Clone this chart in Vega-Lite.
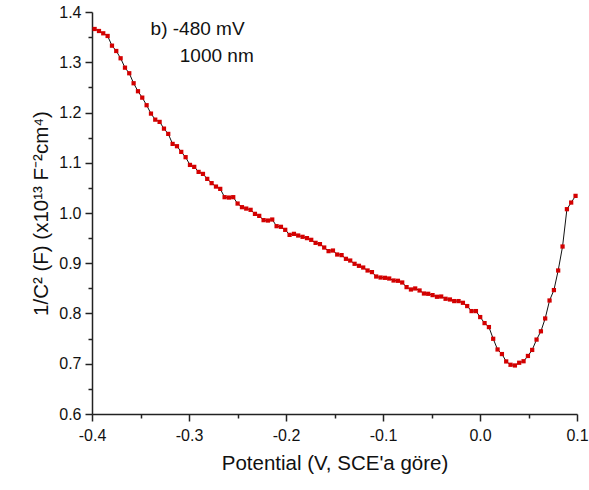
{
  "$schema": "https://vega.github.io/schema/vega-lite/v6.json",
  "width": 485,
  "height": 402,
  "autosize": {"type": "none"},
  "padding": {"left": 92, "top": 12, "right": 12, "bottom": 76},
  "background": "white",
  "config": {
    "view": {"stroke": null},
    "font": "Liberation Sans",
    "axis": {
      "grid": false,
      "domainColor": "#222222",
      "domainWidth": 1.5,
      "tickColor": "#222222",
      "tickWidth": 1.5,
      "labelColor": "#111111",
      "titleColor": "#111111",
      "labelFont": "Liberation Sans",
      "titleFont": "Liberation Sans",
      "labelFontSize": 16,
      "titleFontSize": 20.5,
      "titleFontWeight": "normal",
      "labelOverlap": false,
      "labelFlush": false,
      "labelBound": false
    }
  },
  "data": {
    "values": [
      {"v": -0.3973, "c": 1.3662}, {"v": -0.3928, "c": 1.3622}, {"v": -0.3884, "c": 1.3576}, {"v": -0.3839, "c": 1.3523},
      {"v": -0.3794, "c": 1.3330}, {"v": -0.3750, "c": 1.3224}, {"v": -0.3705, "c": 1.3079}, {"v": -0.3660, "c": 1.2892},
      {"v": -0.3616, "c": 1.2781}, {"v": -0.3571, "c": 1.2582}, {"v": -0.3526, "c": 1.2423}, {"v": -0.3482, "c": 1.2296},
      {"v": -0.3437, "c": 1.2145}, {"v": -0.3392, "c": 1.1978}, {"v": -0.3348, "c": 1.1858}, {"v": -0.3303, "c": 1.1813},
      {"v": -0.3258, "c": 1.1679}, {"v": -0.3214, "c": 1.1574}, {"v": -0.3169, "c": 1.1375}, {"v": -0.3124, "c": 1.1329},
      {"v": -0.3080, "c": 1.1216}, {"v": -0.3035, "c": 1.1111}, {"v": -0.2990, "c": 1.0957}, {"v": -0.2946, "c": 1.0918},
      {"v": -0.2901, "c": 1.0818}, {"v": -0.2856, "c": 1.0778}, {"v": -0.2812, "c": 1.0679}, {"v": -0.2767, "c": 1.0594},
      {"v": -0.2722, "c": 1.0526}, {"v": -0.2678, "c": 1.0480}, {"v": -0.2633, "c": 1.0315}, {"v": -0.2588, "c": 1.0307},
      {"v": -0.2544, "c": 1.0315}, {"v": -0.2499, "c": 1.0188}, {"v": -0.2454, "c": 1.0116}, {"v": -0.2410, "c": 1.0088},
      {"v": -0.2365, "c": 1.0063}, {"v": -0.2320, "c": 0.9983}, {"v": -0.2276, "c": 0.9943}, {"v": -0.2231, "c": 0.9858},
      {"v": -0.2186, "c": 0.9850}, {"v": -0.2142, "c": 0.9870}, {"v": -0.2097, "c": 0.9738}, {"v": -0.2052, "c": 0.9725},
      {"v": -0.2008, "c": 0.9665}, {"v": -0.1963, "c": 0.9565}, {"v": -0.1918, "c": 0.9585}, {"v": -0.1874, "c": 0.9552},
      {"v": -0.1829, "c": 0.9526}, {"v": -0.1784, "c": 0.9500}, {"v": -0.1740, "c": 0.9466}, {"v": -0.1695, "c": 0.9406},
      {"v": -0.1650, "c": 0.9381}, {"v": -0.1606, "c": 0.9313}, {"v": -0.1561, "c": 0.9241}, {"v": -0.1516, "c": 0.9253},
      {"v": -0.1472, "c": 0.9174}, {"v": -0.1427, "c": 0.9162}, {"v": -0.1382, "c": 0.9088}, {"v": -0.1338, "c": 0.9054},
      {"v": -0.1293, "c": 0.8989}, {"v": -0.1248, "c": 0.8949}, {"v": -0.1204, "c": 0.8915}, {"v": -0.1159, "c": 0.8856},
      {"v": -0.1114, "c": 0.8824}, {"v": -0.1070, "c": 0.8736}, {"v": -0.1025, "c": 0.8716}, {"v": -0.0980, "c": 0.8710},
      {"v": -0.0936, "c": 0.8696}, {"v": -0.0891, "c": 0.8657}, {"v": -0.0846, "c": 0.8651}, {"v": -0.0802, "c": 0.8617},
      {"v": -0.0757, "c": 0.8525}, {"v": -0.0712, "c": 0.8478}, {"v": -0.0668, "c": 0.8498}, {"v": -0.0623, "c": 0.8458},
      {"v": -0.0578, "c": 0.8398}, {"v": -0.0534, "c": 0.8392}, {"v": -0.0489, "c": 0.8366}, {"v": -0.0444, "c": 0.8333},
      {"v": -0.0400, "c": 0.8338}, {"v": -0.0355, "c": 0.8293}, {"v": -0.0310, "c": 0.8279}, {"v": -0.0266, "c": 0.8247},
      {"v": -0.0221, "c": 0.8247}, {"v": -0.0176, "c": 0.8213}, {"v": -0.0132, "c": 0.8148}, {"v": -0.0087, "c": 0.8048},
      {"v": -0.0042, "c": 0.8048}, {"v": 0.0002, "c": 0.7929}, {"v": 0.0047, "c": 0.7809}, {"v": 0.0092, "c": 0.7730},
      {"v": 0.0136, "c": 0.7497}, {"v": 0.0181, "c": 0.7284}, {"v": 0.0226, "c": 0.7193}, {"v": 0.0270, "c": 0.7046},
      {"v": 0.0315, "c": 0.6980}, {"v": 0.0360, "c": 0.6966}, {"v": 0.0404, "c": 0.7020}, {"v": 0.0449, "c": 0.7050},
      {"v": 0.0494, "c": 0.7155}, {"v": 0.0538, "c": 0.7275}, {"v": 0.0583, "c": 0.7481}, {"v": 0.0628, "c": 0.7646},
      {"v": 0.0672, "c": 0.7901}, {"v": 0.0717, "c": 0.8259}, {"v": 0.0762, "c": 0.8466}, {"v": 0.0806, "c": 0.8856},
      {"v": 0.0851, "c": 0.9333}, {"v": 0.0896, "c": 1.0076}, {"v": 0.0940, "c": 1.0208}, {"v": 0.0985, "c": 1.0341}
    ]
  },
  "encoding": {
    "x": {
      "field": "v",
      "type": "quantitative",
      "scale": {"domain": [-0.4, 0.1], "nice": false, "zero": false},
      "axis": {
        "title": "Potential (V, SCE'a göre)",
        "values": [-0.4, -0.35, -0.3, -0.25, -0.2, -0.15, -0.1, -0.05, 0, 0.05, 0.1],
        "labelExpr": "abs(round(datum.value*20))%2==1 ? '' : (datum.value < -0.001 ? '-' : '') + format(abs(datum.value), '.1f')",
        "tickSize": {"condition": {"test": "abs(round(datum.value*20))%2==1", "value": 4}, "value": 7},
        "labelPadding": 6,
        "titlePadding": 10
      }
    },
    "y": {
      "field": "c",
      "type": "quantitative",
      "scale": {"domain": [0.6, 1.4], "nice": false, "zero": false},
      "axis": {
        "title": "1/C² (F) (x10¹³ F⁻²cm⁴)",
        "values": [0.6, 0.65, 0.7, 0.75, 0.8, 0.85, 0.9, 0.95, 1.0, 1.05, 1.1, 1.15, 1.2, 1.25, 1.3, 1.35, 1.4],
        "labelExpr": "abs(round(datum.value*20))%2==1 ? '' : format(datum.value, '.1f')",
        "tickSize": {"condition": {"test": "abs(round(datum.value*20))%2==1", "value": 4}, "value": 7},
        "labelPadding": 4,
        "titlePadding": 7
      }
    }
  },
  "layer": [
    {"mark": {"type": "line", "color": "#111111", "strokeWidth": 1}},
    {"mark": {"type": "point", "shape": "square", "filled": true, "color": "#d40000", "size": 18, "opacity": 1}},
    {
      "transform": [{"filter": "datum.v == -0.3973"}],
      "mark": {"type": "text", "align": "left", "baseline": "alphabetic", "fontSize": 19, "font": "Liberation Sans", "color": "#111111", "text": "b) -480 mV"},
      "encoding": {"x": {"datum": -0.3396}, "y": {"datum": 1.3543}}
    },
    {
      "transform": [{"filter": "datum.v == -0.3973"}],
      "mark": {"type": "text", "align": "left", "baseline": "alphabetic", "fontSize": 19, "font": "Liberation Sans", "color": "#111111", "text": "1000 nm"},
      "encoding": {"x": {"datum": -0.3095}, "y": {"datum": 1.2999}}
    }
  ]
}
